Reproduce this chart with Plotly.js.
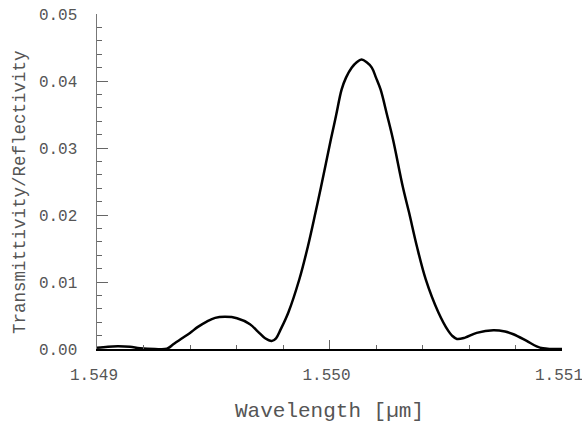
<!DOCTYPE html>
<html>
<head>
<meta charset="utf-8">
<script src="https://cdn.plot.ly/plotly-3.0.1.min.js"></script>
<style>html,body{margin:0;padding:0;background:#fff;}#chart{width:582px;height:425px;}</style>
</head>
<body>
<div id="chart"></div>
<script>
// Wavelength [µm]
var wavelength = [1.549000, 1.549047, 1.549092, 1.549142, 1.549185, 1.549249, 1.549301, 1.549328,
  1.549361, 1.549400, 1.549434, 1.549472, 1.549508, 1.549551, 1.549602, 1.549658, 1.549692,
  1.549723, 1.549751, 1.549770, 1.549791, 1.549823, 1.549870, 1.549907, 1.549940, 1.549963,
  1.550006, 1.550028, 1.550052, 1.550071, 1.550096, 1.550117, 1.550138, 1.550160, 1.550182,
  1.550200, 1.550220, 1.550247, 1.550273, 1.550316, 1.550342,
  1.550376, 1.550414, 1.550468, 1.550511, 1.550527, 1.550548, 1.550583, 1.550633, 1.550705,
  1.550755, 1.550791, 1.550848, 1.550891, 1.550918, 1.550948, 1.551000];
// Transmittivity / Reflectivity
var reflectivity = [0.00020, 0.00035, 0.00040, 0.00032, 0.00012, 0.00000, 0.00005, 0.00070,
  0.00150, 0.00240, 0.00330, 0.00410, 0.00465, 0.00480, 0.00460, 0.00370, 0.00260,
  0.00160, 0.00120, 0.00160, 0.00300, 0.00545, 0.01037, 0.01530, 0.02040, 0.02410,
  0.03130, 0.03480, 0.03870, 0.04050, 0.04200, 0.04280, 0.04320, 0.04280, 0.04200,
  0.04050, 0.03870, 0.03500, 0.03130, 0.02410, 0.02040,
  0.01530, 0.01040, 0.00550, 0.00270, 0.00200, 0.00150, 0.00170, 0.00240, 0.00280,
  0.00260, 0.00220, 0.00120, 0.00040, 0.00010, 0.00000, 0.00000];

var xTickVals = [1.549, 1.550, 1.551];
var xTickText = ['1.549', '1.550', '1.551'];
var yTickVals = [0, 0.01, 0.02, 0.03, 0.04, 0.05];
var yTickText = ['0.00', '0.01', '0.02', '0.03', '0.04', '0.05'];
var xTitle = 'Wavelength [µm]';
var yTitle = 'Transmittivity/Reflectivity';

var font = 'Liberation Mono, Courier New, monospace';
var textColor = '#555';

var trace = {
  x: wavelength, y: reflectivity, type: 'scatter', mode: 'lines',
  line: {color: '#000', width: 2.5, shape: 'spline', smoothing: 1},
  hoverinfo: 'skip'
};

var layout = {
  width: 582, height: 425,
  margin: {l: 97, r: 20, t: 14, b: 76},
  paper_bgcolor: '#fff', plot_bgcolor: '#fff',
  showlegend: false,
  font: {family: font, color: textColor, size: 16},
  xaxis: {
    range: [1.549 - 1e-9, 1.551 + 1e-9], tickmode: 'array', tickvals: xTickVals, ticktext: xTickText,
    ticks: 'inside', ticklen: 9, tickwidth: 1, tickcolor: '#666',
    minor: {dtick: 0.0002, tick0: 1.549, ticks: 'inside', ticklen: 4, tickcolor: '#666'},
    showline: true, linecolor: '#000', linewidth: 1.5,
    showgrid: false, zeroline: false,
    ticklabelstandoff: 10,
    ticklabelshift: -3,
    ticklabeloverflow: 'allow',
    tickfont: {family: font, size: 16, color: textColor},
    title: {text: xTitle, font: {family: font, size: 21, color: textColor}, standoff: 18},
    automargin: false
  },
  yaxis: {
    range: [0, 0.05], tickmode: 'array', tickvals: yTickVals, ticktext: yTickText,
    ticks: 'inside', ticklen: 11, tickwidth: 1, tickcolor: '#666',
    minor: {dtick: 0.002, tick0: 0, ticks: 'inside', ticklen: 5, tickcolor: '#666'},
    showline: true, linecolor: '#777', linewidth: 1.5,
    showgrid: false, zeroline: false,
    ticklabelstandoff: 15,
    tickfont: {family: font, size: 16, color: textColor},
    automargin: false
  },
  annotations: [{
    text: yTitle, textangle: -90, showarrow: false,
    xref: 'paper', yref: 'paper', x: 0, y: 0.4687,
    xanchor: 'center', yanchor: 'middle', xshift: -77,
    font: {family: font, size: 17.5, color: textColor}
  }]
};

Plotly.newPlot('chart', [trace], layout, {staticPlot: true, displayModeBar: false});
</script>
</body>
</html>
